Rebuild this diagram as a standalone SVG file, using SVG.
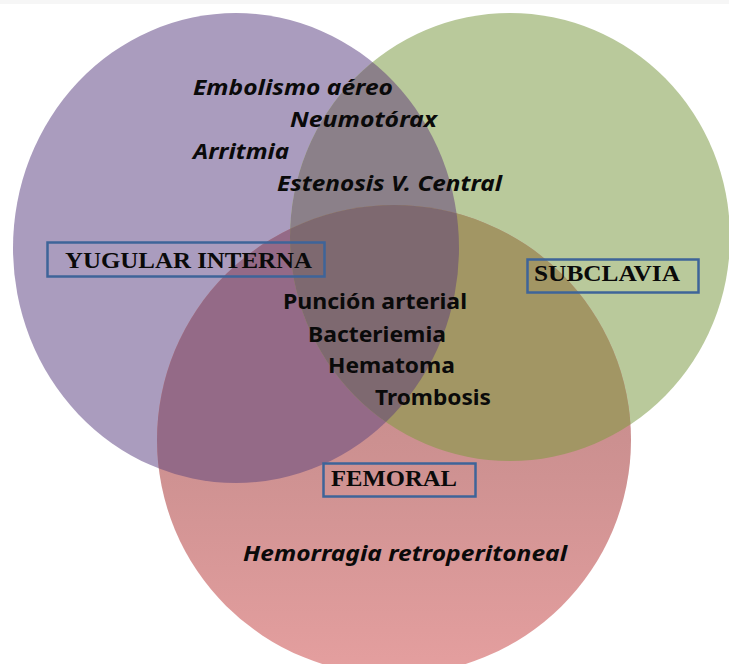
<svg xmlns="http://www.w3.org/2000/svg" width="729" height="664" viewBox="0 0 729 664">
  <style>
    .it { font-family: "Noto Sans", "Open Sans", sans-serif; font-weight: bold; font-style: italic; font-size: 21px; fill: #0a0a0a; }
    .bd { font-family: "Noto Sans", "Open Sans", sans-serif; font-weight: bold; font-size: 22px; fill: #0a0a0a; }
    .lbl { font-family: "Liberation Serif", "Times New Roman", serif; font-weight: bold; font-size: 24px; fill: #0a0a0a; }
    .box { fill: none; stroke: #3E6499; stroke-width: 2.5; }
  </style>
  <defs>
    <ellipse id="eP" cx="236" cy="248" rx="223" ry="235"/>
    <ellipse id="eG" cx="510" cy="237" rx="220" ry="224"/>
    <ellipse id="eR" cx="394" cy="440" rx="237" ry="235"/>
    <clipPath id="cP"><use href="#eP"/></clipPath>
    <clipPath id="cG"><use href="#eG"/></clipPath>
    <clipPath id="cR"><use href="#eR"/></clipPath>
    <linearGradient id="gR" x1="0" y1="205" x2="0" y2="675" gradientUnits="userSpaceOnUse">
      <stop offset="0" stop-color="#B98484"/>
      <stop offset="0.58" stop-color="#CF9292"/>
      <stop offset="1" stop-color="#E59F9F"/>
    </linearGradient>
  </defs>
  <rect x="0" y="0" width="729" height="664" fill="#ffffff"/>
  <rect x="0" y="0" width="729" height="4" fill="#f6f6f6"/>

  <g id="venn">
    <g id="circle-yugular"><use href="#eP" fill="#AA9CBE"/></g>
    <g id="circle-subclavia"><use href="#eG" fill="#B9C99B"/></g>
    <g id="circle-femoral"><use href="#eR" fill="url(#gR)"/></g>
    <g id="overlap-yug-sub" clip-path="url(#cG)"><use href="#eP" fill="#8B8089"/></g>
    <g id="overlap-yug-fem" clip-path="url(#cR)"><use href="#eP" fill="#946A87"/></g>
    <g id="overlap-sub-fem" clip-path="url(#cR)"><use href="#eG" fill="#A29664"/></g>
    <g id="overlap-all" clip-path="url(#cR)"><g clip-path="url(#cG)"><use href="#eP" fill="#7E6970"/></g></g>
  </g>

  <g id="connectors"></g>

  <g id="yugular-sub-texts">
    <text class="it" x="193" y="95" textLength="200" lengthAdjust="spacingAndGlyphs">Embolismo aéreo</text>
    <text class="it" x="290" y="127" textLength="147" lengthAdjust="spacingAndGlyphs">Neumotórax</text>
    <text class="it" x="193" y="159" textLength="96" lengthAdjust="spacingAndGlyphs">Arritmia</text>
    <text class="it" x="277" y="191" textLength="225" lengthAdjust="spacingAndGlyphs">Estenosis V. Central</text>
  </g>

  <g id="common-texts">
    <text class="bd" x="283" y="309" textLength="184" lengthAdjust="spacingAndGlyphs">Punción arterial</text>
    <text class="bd" x="308" y="342" textLength="138" lengthAdjust="spacingAndGlyphs">Bacteriemia</text>
    <text class="bd" x="328" y="373" textLength="127" lengthAdjust="spacingAndGlyphs">Hematoma</text>
    <text class="bd" x="375" y="405" textLength="116" lengthAdjust="spacingAndGlyphs">Trombosis</text>
  </g>

  <g id="femoral-text">
    <text class="it" x="243" y="561" textLength="324" lengthAdjust="spacingAndGlyphs">Hemorragia retroperitoneal</text>
  </g>

  <g id="label-yugular">
    <rect class="box" x="47.5" y="242.5" width="277" height="34"/>
    <text class="lbl" x="65" y="268" textLength="247" lengthAdjust="spacingAndGlyphs">YUGULAR INTERNA</text>
  </g>
  <g id="label-subclavia">
    <rect class="box" x="527.5" y="259.5" width="171" height="33"/>
    <text class="lbl" x="534" y="281" textLength="146" lengthAdjust="spacingAndGlyphs">SUBCLAVIA</text>
  </g>
  <g id="label-femoral">
    <rect class="box" x="323.5" y="463.5" width="152" height="33"/>
    <text class="lbl" x="331" y="486" textLength="126" lengthAdjust="spacingAndGlyphs">FEMORAL</text>
  </g>
</svg>
